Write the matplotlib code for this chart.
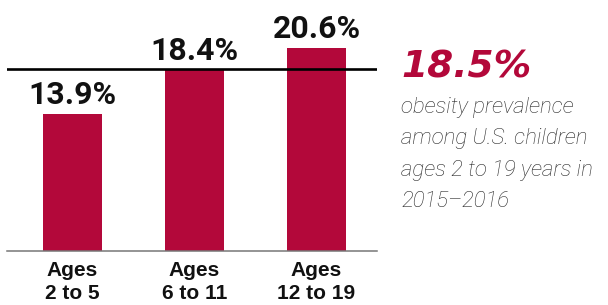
import matplotlib
matplotlib.use("Agg")
import matplotlib.pyplot as plt

categories = ["Ages\n2 to 5", "Ages\n6 to 11", "Ages\n12 to 19"]
values = [13.9, 18.4, 20.6]
overall = 18.5
note_lines = ["obesity prevalence", "among U.S. children", "ages 2 to 19 years in", "2015\u20132016"]

crimson = "#b3083a"

fig = plt.figure(figsize=(6.08, 3.05), dpi=100)
ax = fig.add_axes([7 / 608, 54 / 305, 370 / 608, 246 / 305])

x = list(range(len(values)))
ax.bar(x, values, width=0.48, color=crimson)
ax.axhline(overall, color="black", lw=1.9, zorder=3)

for xi, v in zip(x, values):
    ax.annotate(f"{v}%", (xi, v), xytext=(0, 7.5), textcoords="offset points",
                ha="center", va="baseline", fontsize=23, fontweight="bold",
                family="Roboto", color="#111111")

ax.set_xlim(-0.537, 2.496)
ax.set_ylim(0, 25)
ax.set_xticks(x)
ax.set_xticklabels(categories, fontsize=15, fontweight="bold", family="Liberation Sans",
                   linespacing=1.3, color="#111111")
ax.tick_params(axis="x", length=0, pad=7)
ax.set_yticks([])
for s in ["top", "left", "right"]:
    ax.spines[s].set_visible(False)
ax.spines["bottom"].set_color("#777777")
ax.spines["bottom"].set_linewidth(1.1)

fig.text(401 / 608, 1 - 77 / 305, "18.5%", fontsize=27, fontweight="bold",
         style="italic", family="DejaVu Sans", color=crimson, va="baseline", ha="left")
for i, line in enumerate(note_lines):
    fig.text(401 / 608, 1 - (113 + 31.3 * i) / 305, line, fontsize=16,
             fontweight="light", style="italic", family="Roboto", color="#2a2a2a",
             va="baseline", ha="left")

fig.savefig("out.png", dpi=100)
